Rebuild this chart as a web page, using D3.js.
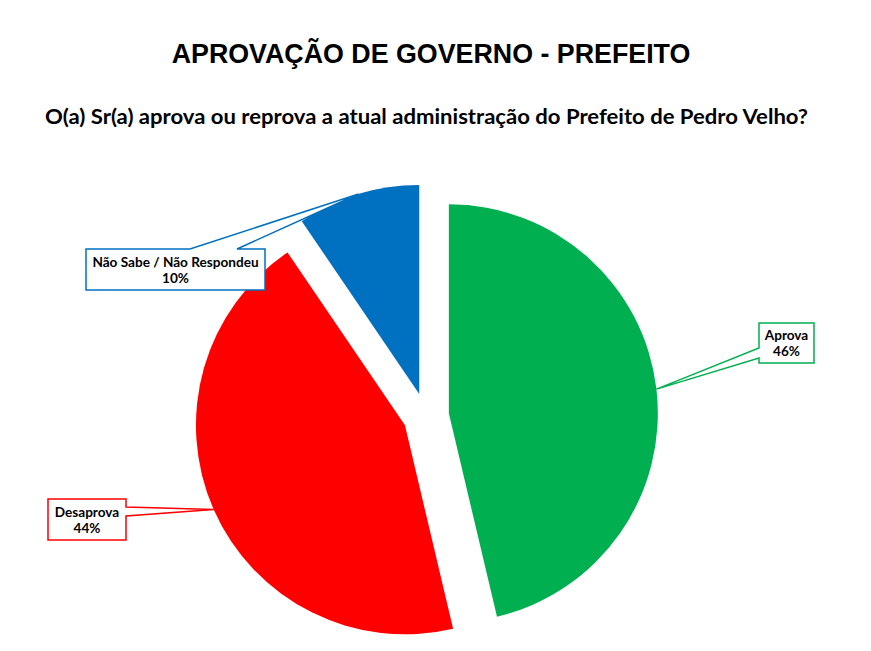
<!DOCTYPE html>
<html>
<head>
<meta charset="utf-8">
<title>Aprovação de Governo - Prefeito</title>
<script src="https://d3js.org/d3.v7.min.js"></script>
<style>
  body { margin: 0; background: #fff; }
</style>
</head>
<body>
<svg width="871" height="651"></svg>
<script>
// dados (fatias; rótulos arredondados como no original)
const categories = ["Aprova", "Desaprova", "Não Sabe / Não Respondeu"];
const values = [46.3, 44.2, 9.5];
const valueLabels = ["46%", "44%", "10%"];
const colors = ["#00B050", "#FF0000", "#0070C0"];

// posição das caixas de rótulo (layout)
// side: lado onde a "seta" encosta; a1/a2: pontos de encaixe ao longo do lado
const labelBoxes = [
  { x: 759, y: 323, w: 55, h: 40, side: "left", a1: 25, a2: 35 },
  { x: 48, y: 499, w: 78, h: 41, side: "right", a1: 8, a2: 17 },
  { x: 86, y: 249, w: 179, h: 41, side: "top", a1: 104, a2: 151 }
];

const width = 871, height = 651;
const cx = 426, cy = 416, radius = 209, explode = 23;

const svg = d3.select("svg");

// títulos
svg.append("text")
  .attr("x", 431).attr("y", 63)
  .attr("text-anchor", "middle")
  .attr("font-family", "'Liberation Sans', Arial, sans-serif")
  .attr("font-weight", "bold")
  .attr("font-size", 26.8)
  .text("APROVAÇÃO DE GOVERNO - PREFEITO");

svg.append("text")
  .attr("x", 45).attr("y", 124)
  .attr("font-family", "Lato, sans-serif")
  .attr("font-weight", "bold")
  .attr("font-size", 21)
  .attr("textLength", 763)
  .attr("lengthAdjust", "spacingAndGlyphs")
  .text("O(a) Sr(a) aprova ou reprova a atual administração do Prefeito de Pedro Velho?");

// pizza
const data = categories.map((c, i) => ({ name: c, value: values[i], label: valueLabels[i], color: colors[i], box: labelBoxes[i] }));

const pie = d3.pie().sort(null).value(d => d.value);
const arcs = pie(data);
const arc = d3.arc().innerRadius(0).outerRadius(radius);
const edge = d3.arc().innerRadius(radius).outerRadius(radius);

const g = svg.append("g").attr("transform", `translate(${cx},${cy})`);

function offset(a) {
  const mid = (a.startAngle + a.endAngle) / 2;
  return [Math.sin(mid) * explode, -Math.cos(mid) * explode];
}

g.selectAll("path.slice")
  .data(arcs)
  .join("path")
  .attr("class", "slice")
  .attr("transform", d => `translate(${offset(d)})`)
  .attr("fill", d => d.data.color)
  .attr("d", arc);

// rótulos com balão
function bubblePath(b, tip) {
  const x0 = b.x, y0 = b.y, x1 = b.x + b.w, y1 = b.y + b.h;
  const t = `L${tip[0]},${tip[1]}`;
  if (b.side === "top")
    return `M${x0},${y0}L${x0 + b.a1},${y0}${t}L${x0 + b.a2},${y0}L${x1},${y0}L${x1},${y1}L${x0},${y1}Z`;
  if (b.side === "left")
    return `M${x0},${y0}L${x1},${y0}L${x1},${y1}L${x0},${y1}L${x0},${y0 + b.a2}${t}L${x0},${y0 + b.a1}Z`;
  // right
  return `M${x0},${y0}L${x1},${y0}L${x1},${y0 + b.a1}${t}L${x1},${y0 + b.a2}L${x1},${y1}L${x0},${y1}Z`;
}

arcs.forEach(a => {
  const o = offset(a);
  const c = edge.centroid(a);
  const tip = [cx + o[0] + c[0], cy + o[1] + c[1]];
  const b = a.data.box;

  svg.append("path")
    .attr("d", bubblePath(b, tip))
    .attr("fill", "#fff")
    .attr("stroke", a.data.color)
    .attr("stroke-width", 1.5)
    .attr("stroke-linejoin", "miter");

  const t = svg.append("text")
    .attr("text-anchor", "middle")
    .attr("font-family", "Lato, sans-serif")
    .attr("font-weight", "bold")
    .attr("font-size", 13.6)
    .attr("fill", "#000");
  t.append("tspan").attr("x", b.x + b.w / 2).attr("y", b.y + b.h / 2 - 3).text(a.data.name);
  t.append("tspan").attr("x", b.x + b.w / 2).attr("y", b.y + b.h / 2 + 13).text(a.data.label);
});
</script>
</body>
</html>
